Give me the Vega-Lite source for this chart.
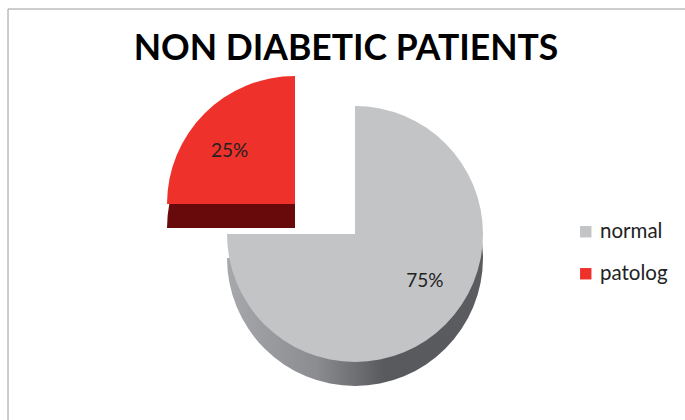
{
  "$schema": "https://vega.github.io/schema/vega-lite/v6.json",
  "autosize": "none",
  "padding": {"left": 7.5, "top": 8.5, "right": 0, "bottom": 0},
  "width": 695,
  "height": 451,
  "background": "white",
  "view": {"stroke": "#9a9a9a", "strokeWidth": 1},
  "title": {
    "text": "NON DIABETIC PATIENTS",
    "font": "Lato",
    "fontSize": 35.5,
    "fontWeight": "bold",
    "color": "#000000",
    "anchor": "middle",
    "frame": "group",
    "orient": "top",
    "offset": -59,
    "dx": -9
  },
  "data": {
    "values": [
      {"category": "normal", "value": 75, "label": "75%"},
      {"category": "patolog", "value": 25, "label": "25%"}
    ]
  },
  "transform": [
    {"stack": "value", "groupby": [], "as": ["v0", "v1"], "sort": [{"field": "category", "order": "ascending"}]}
  ],
  "layer": [
    {
      "transform": [{"filter": "datum.category === 'normal'"}],
      "mark": {
        "type": "arc", "outerRadius": 128, "yOffset": 24,
        "fill": {"gradient": "linear", "x1": 0, "y1": 0, "x2": 1, "y2": 0,
          "stops": [
            {"offset": 0, "color": "#a6a8ab"},
            {"offset": 0.35, "color": "#8a8c90"},
            {"offset": 0.62, "color": "#58595d"},
            {"offset": 1, "color": "#5b5c60"}
          ]}
      },
      "encoding": {
        "theta": {"field": "v0", "type": "quantitative", "scale": {"domain": [0, 100]}},
        "theta2": {"field": "v1"}
      }
    },
    {
      "transform": [{"filter": "datum.category === 'normal'"}],
      "mark": {"type": "arc", "outerRadius": 128},
      "encoding": {
        "theta": {"field": "v0", "type": "quantitative", "scale": {"domain": [0, 100]}},
        "theta2": {"field": "v1"},
        "color": {"field": "category", "type": "nominal",
          "scale": {"domain": ["normal", "patolog"], "range": ["#c3c4c6", "#ee312a"]},
          "legend": {"title": null}}
      }
    },
    {
      "transform": [{"filter": "datum.category === 'patolog'"}],
      "mark": {"type": "arc", "outerRadius": 128, "xOffset": -60, "yOffset": -6, "fill": "#680a0b"},
      "encoding": {
        "theta": {"field": "v0", "type": "quantitative", "scale": {"domain": [0, 100]}},
        "theta2": {"field": "v1"}
      }
    },
    {
      "transform": [{"filter": "datum.category === 'patolog'"}],
      "mark": {"type": "arc", "outerRadius": 128, "xOffset": -60, "yOffset": -30},
      "encoding": {
        "theta": {"field": "v0", "type": "quantitative", "scale": {"domain": [0, 100]}},
        "theta2": {"field": "v1"},
        "color": {"field": "category", "type": "nominal",
          "scale": {"domain": ["normal", "patolog"], "range": ["#c3c4c6", "#ee312a"]},
          "legend": {"title": null}}
      }
    },
    {
      "mark": {"type": "text", "radius": 86, "font": "Lato", "fontSize": 19, "color": "#222222", "xOffset": 9, "yOffset": -14},
      "encoding": {
        "theta": {"field": "value", "type": "quantitative", "stack": true, "scale": {"domain": [0, 100]}},
        "order": {"field": "category"},
        "text": {"field": "label"},
        "opacity": {"condition": {"test": "datum.category === 'normal'", "value": 1}, "value": 0}
      }
    },
    {
      "mark": {"type": "text", "radius": 84, "font": "Lato", "fontSize": 19, "color": "#222222", "xOffset": -66, "yOffset": -24},
      "encoding": {
        "theta": {"field": "value", "type": "quantitative", "stack": true, "scale": {"domain": [0, 100]}},
        "order": {"field": "category"},
        "text": {"field": "label"},
        "opacity": {"condition": {"test": "datum.category === 'patolog'", "value": 1}, "value": 0}
      }
    }
  ],
  "config": {
    "legend": {
      "orient": "none",
      "legendX": 568,
      "legendY": 213,
      "padding": 0,
      "symbolType": "square",
      "symbolSize": 130,
      "symbolStrokeWidth": 0,
      "symbolOpacity": 1,
      "labelFont": "Lato",
      "labelFontSize": 20.5,
      "labelColor": "#222222",
      "labelOffset": 4,
      "rowPadding": 21
    }
  }
}
